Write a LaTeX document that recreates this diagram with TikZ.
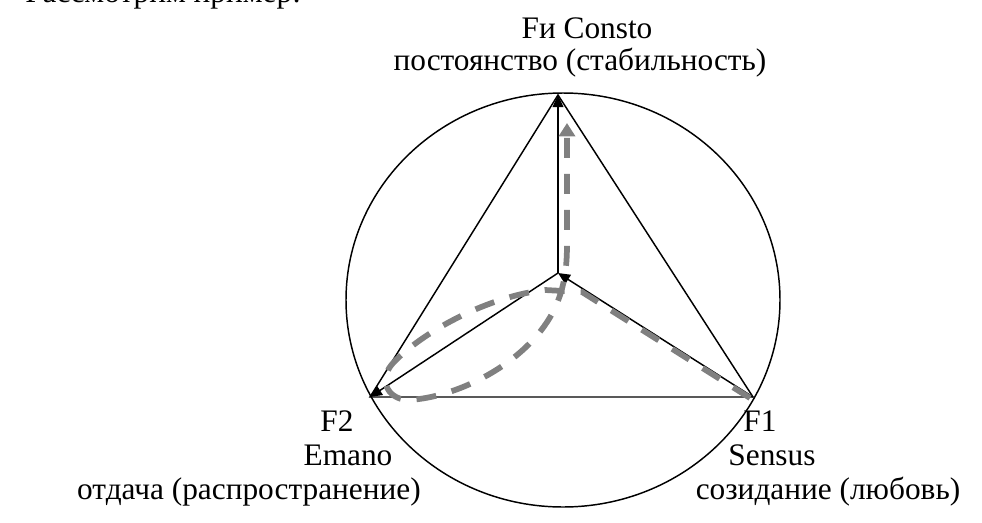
\documentclass[tikz,border=0pt]{standalone}
\usepackage{fontspec}
\setmainfont{Liberation Serif}
\usetikzlibrary{arrows.meta}
\definecolor{pathgray}{RGB}{128,128,128}
\begin{document}
\begin{tikzpicture}[x=0.75pt,y=-0.75pt,
  blk/.style={line width=1.1pt,black},
  arr/.style={blk,-{Triangle[length=9pt,width=8pt]}},
  gdash/.style={line width=4.3pt,pathgray,dash pattern=on 15pt off 12pt,
     -{Triangle[length=10pt,width=12pt]}},
  lbl/.style={inner sep=0pt,anchor=base,font=\fontsize{23.5}{28}\selectfont}]
\useasboundingbox (0,0) rectangle (982,522);
\clip (0,0) rectangle (982,522);
% partially visible text at the top
\node[lbl,anchor=base west] (intro) at (25,2) {Рассмотрим пример:};
% circle
\draw[blk] (563,300) ellipse [x radius=217,y radius=207];
\coordinate (top) at (558,95);
\coordinate (left) at (370,397);
\coordinate (right) at (753,397);
\coordinate (ctr) at (558,273);
% triangle
\draw[blk] (top) -- (left) -- (right) -- cycle;
% spokes
\draw[arr] (ctr) -- (top);
\draw[arr] (ctr) -- (left);
\draw[arr] (right) -- (ctr);
% gray dashed route
\coordinate (gs) at (750,398);
\coordinate (ge) at (567,123);
\draw[gdash] (gs) -- (582,292) -- (545,290)
  .. controls (490,296) and (425,330) .. (394,362)
  .. controls (378,378) and (386,399) .. (408,400)
  .. controls (455,398) and (525,365) .. (553,312)
  .. controls (562,294) and (567,275) .. (567,245) -- (ge);
% labels
\node[lbl] (tl1) at (587,38) {Fи Consto};
\node[lbl] (tl2) at (580,70) {постоянство (стабильность)};
\node[lbl] (ll1) at (337,431) {F2};
\node[lbl] (ll2) at (348,465) {Emano};
\node[lbl] (ll3) at (249,499) {отдача (распространение)};
\node[lbl] (rl1) at (760,431) {F1};
\node[lbl] (rl2) at (772,465) {Sensus};
\node[lbl] (rl3) at (828,499) {созидание (любовь)};
\end{tikzpicture}
\end{document}
